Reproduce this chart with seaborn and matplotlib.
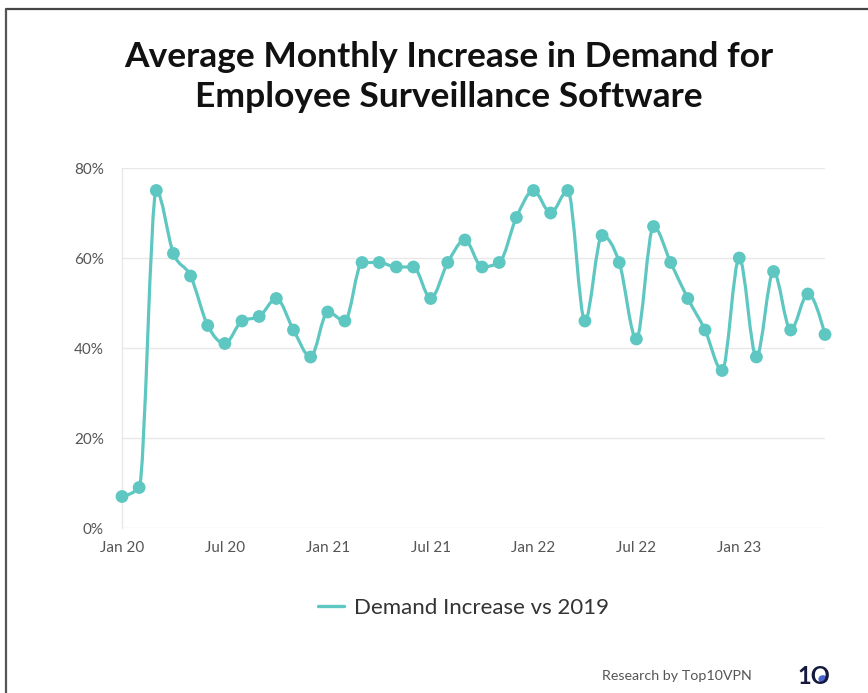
import numpy as np
import pandas as pd
import seaborn as sns
import matplotlib
matplotlib.use("Agg")
import matplotlib.pyplot as plt
from matplotlib.path import Path
from matplotlib.patches import PathPatch
from matplotlib.lines import Line2D

# ---- data ----
months = ["Jan 20", "Feb 20", "Mar 20", "Apr 20", "May 20", "Jun 20",
          "Jul 20", "Aug 20", "Sep 20", "Oct 20", "Nov 20", "Dec 20",
          "Jan 21", "Feb 21", "Mar 21", "Apr 21", "May 21", "Jun 21",
          "Jul 21", "Aug 21", "Sep 21", "Oct 21", "Nov 21", "Dec 21",
          "Jan 22", "Feb 22", "Mar 22", "Apr 22", "May 22", "Jun 22",
          "Jul 22", "Aug 22", "Sep 22", "Oct 22", "Nov 22", "Dec 22",
          "Jan 23", "Feb 23", "Mar 23", "Apr 23", "May 23", "Jun 23"]
demand_increase = [7, 9, 75, 61, 56, 45, 41, 46, 47, 51, 44, 38,
                   48, 46, 59, 59, 58, 58, 51, 59, 64, 58, 59, 69,
                   75, 70, 75, 46, 65, 59, 42, 67, 59, 51, 44, 35,
                   60, 38, 57, 44, 52, 43]
tick_labels = ["Jan 20", "Jul 20", "Jan 21", "Jul 21", "Jan 22", "Jul 22", "Jan 23"]
y_ticks = [0, 20, 40, 60, 80]
series_name = "Demand Increase vs 2019"
title = "Average Monthly Increase in Demand for\nEmployee Surveillance Software"

df = pd.DataFrame({"idx": np.arange(len(months)), "month": months, "value": demand_increase})

color = "#5ec7c1"
sns.set_theme(style="white")
plt.rcParams["font.family"] = ["Lato", "DejaVu Sans"]

fig = plt.figure(figsize=(8.68, 6.93), dpi=100)
ax = fig.add_axes([122 / 868, 1 - 528 / 693, (825 - 122) / 868, (528 - 168) / 693])

# gridlines
ax.set_ylim(0, 80)
ax.set_xlim(0, len(months) - 1)
ax.set_yticks(y_ticks)
ax.set_yticklabels([f"{v}%" for v in y_ticks])
ax.yaxis.grid(True, color="#e8e8e8", linewidth=1)
ax.set_axisbelow(True)
ax.set_xticks([months.index(t) for t in tick_labels])
ax.set_xticklabels(tick_labels)
ax.tick_params(axis="both", length=0, labelsize=11, labelcolor="#555555")
ax.tick_params(axis="y", pad=13)
ax.tick_params(axis="x", pad=9)
for s in ["top", "right", "bottom"]:
    ax.spines[s].set_visible(False)
ax.spines["left"].set_color("#e8e8e8")
ax.spines["left"].set_linewidth(1)

# smooth monotone curve (bezier segments built from the data)
x = df["idx"].to_numpy(dtype=float)
y = df["value"].to_numpy(dtype=float)
n = len(x)
s = np.diff(y) / np.diff(x)
t = np.zeros(n)
for i in range(1, n - 1):
    s0, s1 = s[i - 1], s[i]
    p = (s0 + s1) / 2
    t[i] = (np.sign(s0) + np.sign(s1)) * min(abs(s0), abs(s1), 0.5 * abs(p))
t[0] = (3 * s[0] - t[1]) / 2
t[-1] = (3 * s[-1] - t[-2]) / 2
verts = [(x[0], y[0])]
codes = [Path.MOVETO]
for i in range(n - 1):
    dx = x[i + 1] - x[i]
    verts += [(x[i] + dx / 3, y[i] + dx * t[i] / 3),
              (x[i + 1] - dx / 3, y[i + 1] - dx * t[i + 1] / 3),
              (x[i + 1], y[i + 1])]
    codes += [Path.CURVE4] * 3
ax.add_patch(PathPatch(Path(verts, codes), fill=False, edgecolor=color,
                       linewidth=2.3, clip_on=False, zorder=2))

sns.scatterplot(data=df, x="idx", y="value", ax=ax, color=color, s=85,
                edgecolor="none", zorder=3, clip_on=False, legend=False)
ax.set_xlabel("")
ax.set_ylabel("")

# title
fig.text(449 / 868, 1 - 77 / 693, title, ha="center", va="center", fontsize=25.5,
         fontweight="bold", color="#111111", linespacing=1.28)

# legend
handle = Line2D([0], [0], color=color, linewidth=2.4)
fig.legend([handle], [series_name], loc="center", bbox_to_anchor=(0.534, 1 - 608 / 693),
           frameon=False, fontsize=16, handlelength=1.2, handletextpad=0.45,
           labelcolor="#333333")

# footer
fig.text(752 / 868, 1 - 676 / 693, "Research by Top10VPN", ha="right", va="center",
         fontsize=10.3, color="#555555")
fig.text(797 / 868, 1 - 676 / 693, "1O", ha="left", va="center", fontsize=17,
         fontweight="bold", color="#151a3d")
fig.add_artist(plt.Circle((823 / 868, 1 - 679 / 693), 0.0045, color="#4a63c9",
                          transform=fig.transFigure))

# frame lines
fig.add_artist(Line2D([0.007, 1.0], [1 - 9 / 693, 1 - 9 / 693], color="#444444",
                      linewidth=1.6, transform=fig.transFigure))
fig.add_artist(Line2D([0.007, 0.007], [0, 1 - 9 / 693], color="#555555",
                      linewidth=1.6, transform=fig.transFigure))

fig.savefig("out.png", dpi=100, facecolor="white")
